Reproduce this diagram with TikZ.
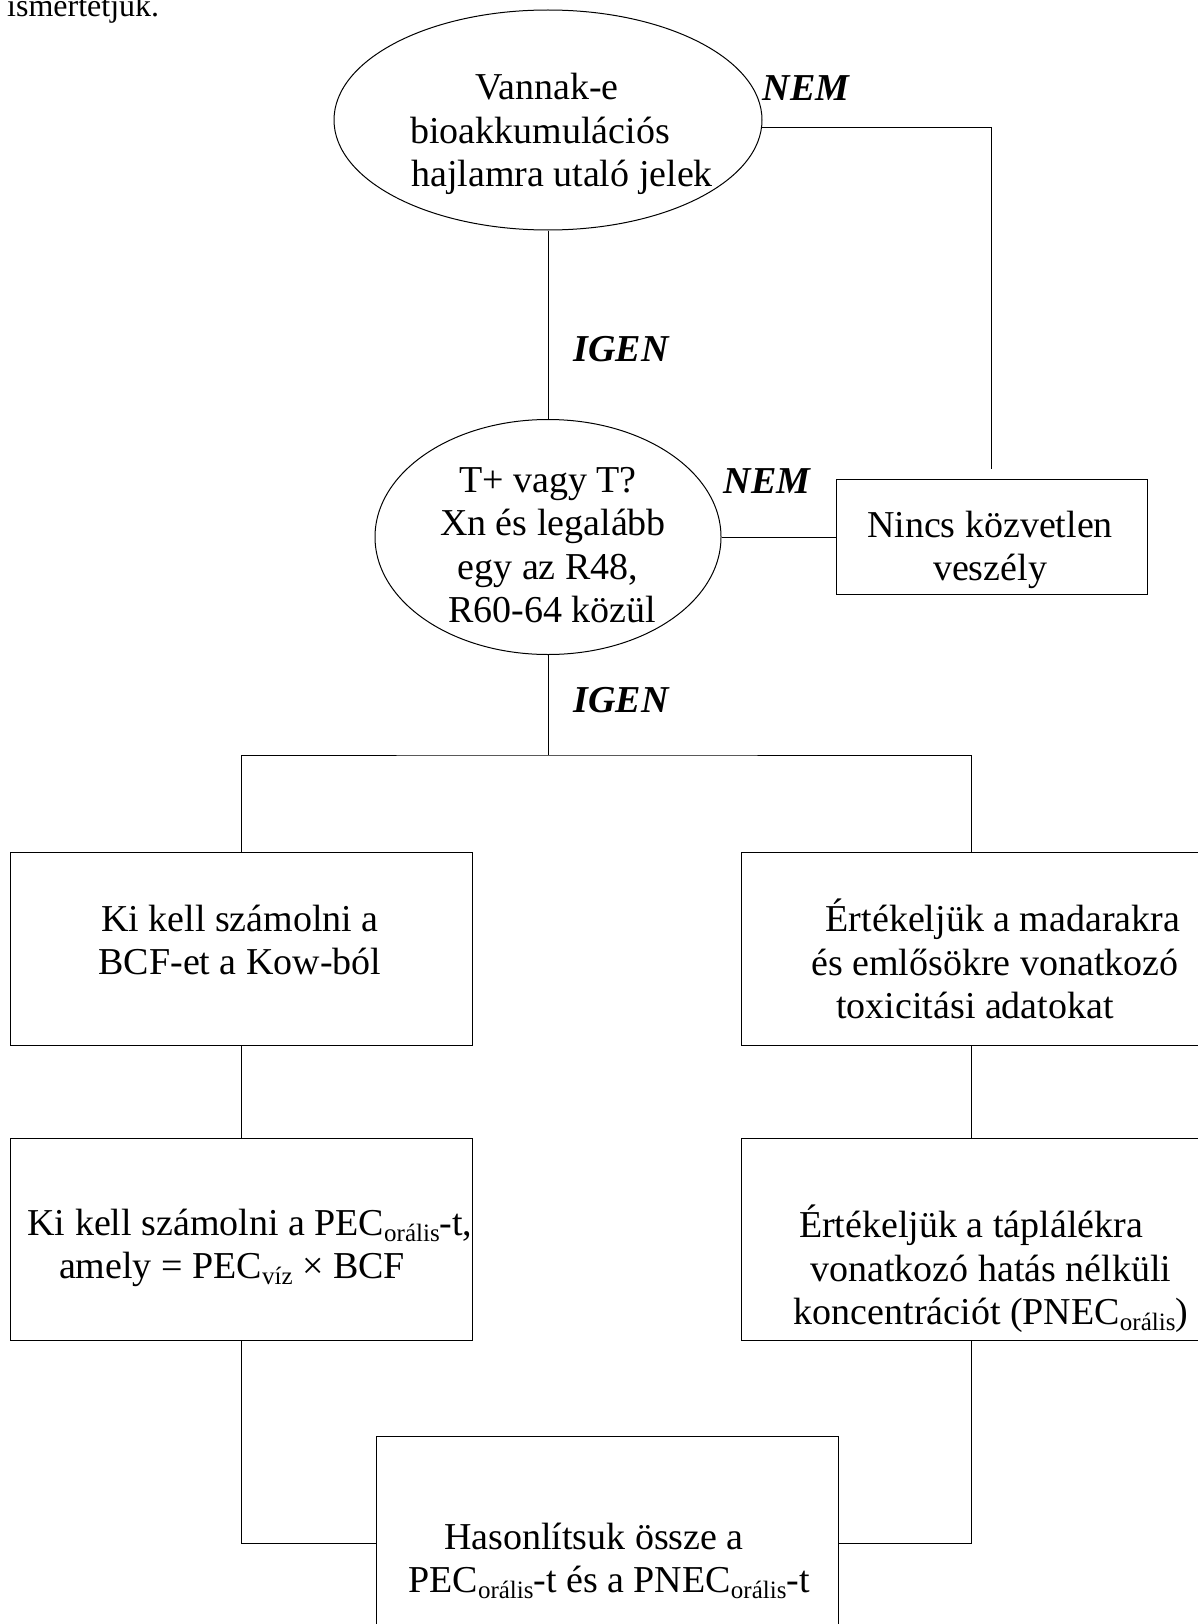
\documentclass[tikz,border=0pt]{standalone}
\usepackage{fontspec}
\setmainfont{Liberation Serif}
\usetikzlibrary{shapes.geometric}

% lowered, reduced-size index text
\newcommand{\idx}[1]{\raisebox{-0.16em}{\fontsize{25}{25}\selectfont #1}}

\tikzset{
  txt/.style={font=\fontsize{38}{43.5}\selectfont, align=center, inner sep=0pt},
  lbl/.style={font=\fontsize{38}{43.5}\selectfont\bfseries\itshape, inner sep=0pt},
  shapeline/.style={draw, line width=1.0pt},
  oval/.style={shapeline, ellipse, inner sep=0pt},
  panel/.style={shapeline, rectangle, inner sep=0pt},
  link/.style={line width=1.0pt}
}

\begin{document}
\begin{tikzpicture}[x=1pt, y=-1pt]
  \useasboundingbox (0,0) rectangle (1198,1624);
  \clip (0,0) rectangle (1198,1624);

  % running text above the chart
  \node[anchor=base west, inner sep=0pt, font=\fontsize{32}{36}\selectfont] (prev) at (7,17) {ismertetjük.};

  % shapes
  \node[oval, minimum width=428, minimum height=220] (q1) at (548,120) {};
  \node[oval, minimum width=346, minimum height=235] (q2) at (548,537) {};
  \node[panel, minimum width=311, minimum height=115] (none) at (992,537) {};
  \node[panel, minimum width=462, minimum height=193] (bcf) at (241,948.5) {};
  \node[panel, minimum width=460, minimum height=193] (tox) at (971,948.5) {};
  \node[panel, minimum width=462, minimum height=202] (pec) at (241,1239) {};
  \node[panel, minimum width=460, minimum height=202] (pnec) at (971,1239) {};
  \node[panel, minimum width=462, minimum height=214] (cmp) at (607,1543) {};

  % texts
  \node[txt] (q1t) at (540,134) {\hspace*{14pt}Vannak-e\\bioakkumulációs\hspace*{24pt}\\\hspace*{44pt}hajlamra utaló jelek};
  \node[txt] (q2t) at (548,545) {T+ vagy T?\\\hspace*{10pt}Xn és legalább\\egy az R48,\hspace*{60pt}\\\hspace*{8pt}R60-64 közül};
  \node[txt] (nonet) at (990,550) {Nincs közvetlen\\veszély};
  \node[txt] (bcft) at (240,940) {Ki kell számolni a\\BCF-et a Kow-ból};
  \node[txt] (toxt) at (995,959) {\hspace*{16pt}Értékeljük a madarakra\\és emlősökre vonatkozó\\toxicitási adatokat\hspace*{40pt}};
  \node[txt] (pect) at (250,1248) {Ki kell számolni a PEC\idx{orális}-t,\\amely = PEC\idx{víz} × BCF\hspace*{36pt}};
  \node[txt] (pnect) at (991,1269) {Értékeljük a táplálékra\hspace*{40pt}\\vonatkozó hatás nélküli\hspace*{52pt}\\koncentrációt (PNEC\idx{orális})};
  \node[txt] (cmpt) at (609,1561) {Hasonlítsuk össze a\hspace*{30pt}\\PEC\idx{orális}-t és a PNEC\idx{orális}-t};

  % branch labels
  \node[lbl] (no1) at (806,88) {NEM};
  \node[lbl] (yes1) at (621,349) {IGEN};
  \node[lbl] (no2) at (767,481) {NEM};
  \node[lbl] (yes2) at (621,700) {IGEN};

  % connectors
  \coordinate (noend) at (991,469);
  \coordinate (split) at (548,755);
  \draw[link] (q1.-2) -| (noend);
  \draw[link] (q1.south) -- (q2.north);
  \draw[link] (q2.east) -- (none.west);
  \draw[link] (q2.south) -- (split);
  \draw[link] (bcf.north) |- (split) -| (tox.north);
  \draw[link] (bcf.south) -- (pec.north);
  \draw[link] (tox.south) -- (pnec.north);
  \draw[link] (pec.south) |- (cmp.west);
  \draw[link] (pnec.south) |- (cmp.east);
\end{tikzpicture}
\end{document}
